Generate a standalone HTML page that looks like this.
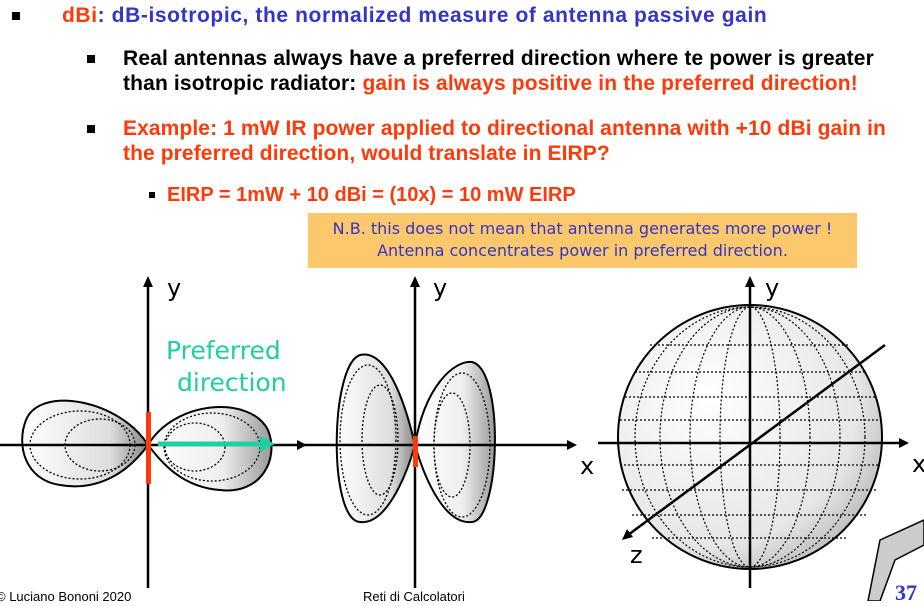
<!DOCTYPE html>
<html><head><meta charset="utf-8"><style>
body{margin:0;width:924px;height:601px;overflow:hidden;background:#fff;font-family:"Liberation Sans",sans-serif;position:relative}
.t{position:absolute;font-weight:bold;font-size:21px;white-space:nowrap;line-height:25px}
.red{color:#ff3a0a}.blue{color:#3434c8}
.b{position:absolute;width:8px;height:8px;background:#000}
</style></head><body>
<div class="b" style="left:12px;top:12px"></div>
<div class="t" style="left:62px;top:3px;letter-spacing:0.6px"><span class="red">dBi</span><span class="blue">: dB-isotropic, the normalized measure of antenna passive gain</span></div>
<div class="b" style="left:87px;top:55px"></div>
<div class="t" style="left:123px;top:46px;letter-spacing:0.15px">Real antennas always have a preferred direction where te power is greater<br>than isotropic radiator: <span class="red">gain is always positive in the preferred direction!</span></div>
<div class="b" style="left:87px;top:125px"></div>
<div class="t red" style="left:123px;top:116px;letter-spacing:0.1px">Example: 1 mW IR power applied to directional antenna with +10 dBi gain in<br>the preferred direction, would translate in EIRP?</div>
<div class="b" style="left:149px;top:192px;width:6px;height:6px"></div>
<div class="t red" style="left:167px;top:183px;font-size:20px">EIRP = 1mW + 10 dBi = (10x) = 10 mW EIRP</div>
<div style="position:absolute;left:308px;top:213px;width:549px;height:55px;background:#fcc86c;color:#3434c8;font-family:'DejaVu Sans',sans-serif;font-size:16px;text-align:center;line-height:22px;padding-top:5px;box-sizing:border-box">N.B. this does not mean that antenna generates more power !<br>Antenna concentrates power in preferred direction.</div>
<svg width="924" height="601" style="position:absolute;left:0;top:0">
<defs>
<linearGradient id="gl" x1="0" x2="1"><stop offset="0" stop-color="#fff"/><stop offset="0.7" stop-color="#ddd"/><stop offset="1" stop-color="#888"/></linearGradient>
<linearGradient id="gr" x1="1" x2="0"><stop offset="0" stop-color="#999"/><stop offset="0.4" stop-color="#eee"/><stop offset="1" stop-color="#fff"/></linearGradient>
<radialGradient id="gs" cx="0.35" cy="0.35" r="0.8"><stop offset="0" stop-color="#fff"/><stop offset="0.7" stop-color="#e6e6e6"/><stop offset="1" stop-color="#aaa"/></radialGradient>
</defs>
<g stroke="#000" stroke-width="2">
<path d="M148,445 C120,400 40,385 26,420 C16,445 25,480 60,485 C100,492 130,470 148,445 Z" fill="url(#gl)"/>
<path d="M148,445 C175,400 250,395 268,430 C280,460 260,495 220,490 C180,487 160,460 148,445 Z" fill="url(#gr)"/>
<g fill="none" stroke-width="1.3" stroke-dasharray="2,2"><ellipse cx="80" cy="445" rx="50" ry="34"/><ellipse cx="100" cy="445" rx="35" ry="26"/><ellipse cx="212" cy="447" rx="48" ry="34"/><ellipse cx="195" cy="447" rx="30" ry="24"/></g>
</g>
<g stroke="#000" stroke-width="2">
<path d="M415,445 C400,380 380,350 360,355 C330,365 328,520 360,522 C385,525 405,480 415,445 Z" fill="url(#gl)"/>
<path d="M415,445 C425,385 455,360 472,362 C505,370 500,520 472,522 C445,525 425,480 415,445 Z" fill="url(#gr)"/>
<g fill="none" stroke-width="1.3" stroke-dasharray="2,2"><ellipse cx="368" cy="440" rx="28" ry="75"/><ellipse cx="380" cy="440" rx="18" ry="55"/><ellipse cx="462" cy="445" rx="28" ry="72"/><ellipse cx="452" cy="445" rx="18" ry="52"/></g>
</g>
<g>
<ellipse cx="750" cy="437" rx="132" ry="132" fill="url(#gs)" stroke="#000" stroke-width="2"/>
<g fill="none" stroke="#000" stroke-width="1.2" stroke-dasharray="2,2">
<ellipse cx="750" cy="437" rx="30" ry="130"/><ellipse cx="750" cy="437" rx="60" ry="130"/><ellipse cx="750" cy="437" rx="90" ry="130"/><ellipse cx="750" cy="437" rx="115" ry="130"/>
<line x1="635" y1="372" x2="865" y2="372"/><line x1="625" y1="397" x2="875" y2="397"/><line x1="620" y1="420" x2="880" y2="420"/><line x1="620" y1="465" x2="880" y2="465"/><line x1="622" y1="490" x2="878" y2="490"/><line x1="632" y1="515" x2="868" y2="515"/><line x1="650" y1="345" x2="850" y2="345"/><line x1="652" y1="538" x2="848" y2="538"/>
</g></g>
<g stroke="#000" stroke-width="2.5" fill="none">
<line x1="0" y1="445" x2="300" y2="445"/>
<line x1="300" y1="445" x2="570" y2="445"/>
<line x1="598" y1="443" x2="902" y2="443"/>
<line x1="148" y1="588" x2="148" y2="283"/>
<line x1="415" y1="588" x2="415" y2="283"/>
<line x1="750" y1="588" x2="750" y2="283"/>
<line x1="885" y1="345" x2="628" y2="535"/>
</g>
<g fill="#000">
<path d="M307,445 L297,440 L297,450 Z"/><path d="M577,445 L567,440 L567,450 Z"/><path d="M909,443 L899,438 L899,448 Z"/>
<path d="M148,276 L143,287 L153,287 Z"/><path d="M415,276 L410,287 L420,287 Z"/><path d="M750,276 L745,287 L755,287 Z"/>
<path d="M622,540 L627,529 L633,537 Z"/>
</g>
<rect x="146" y="412" width="5" height="72" fill="#ff3a0a"/>
<rect x="413" y="436" width="5" height="31" fill="#ff3a0a"/>
<line x1="158" y1="444" x2="262" y2="444" stroke="#1fcf9f" stroke-width="5"/>
<path d="M275,444 L260,436 L260,452 Z" fill="#1fcf9f"/>
<g font-family="DejaVu Sans,sans-serif" font-size="24" fill="#000">
<text x="167" y="296">y</text><text x="433" y="296">y</text><text x="765" y="296">y</text>
<text x="580" y="474">x</text><text x="912" y="472">x</text><text x="630" y="563">z</text>
</g>
<g font-family="DejaVu Sans,sans-serif" font-size="25" fill="#1fcf9f">
<text x="166" y="359">Preferred</text><text x="177" y="391">direction</text></g>
<path d="M880,540 L924,520 L924,545 L895,560 L880,601 L868,601 Z" fill="#ccc" stroke="#000" stroke-width="1.5"/>
</svg>
<div style="position:absolute;left:-4px;top:589px;font-size:13px">© Luciano Bononi 2020</div>
<div style="position:absolute;left:363px;top:589px;font-size:13px">Reti di Calcolatori</div>
<div style="position:absolute;left:895px;top:580px;font-size:22px;font-weight:bold;color:#3434c8;font-family:'Liberation Serif',serif">37</div>
</body></html>
